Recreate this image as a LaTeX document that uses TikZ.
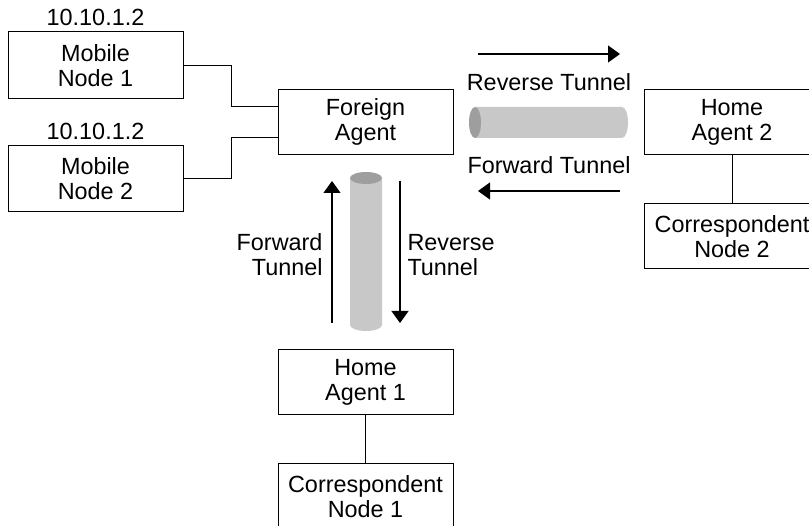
\documentclass[tikz,border=0pt]{standalone}
\usepackage{fontspec}
\setmainfont{Liberation Sans}
\usepackage{tikz}
\usetikzlibrary{arrows.meta,positioning}

\definecolor{tubebody}{HTML}{C8C8C8}
\definecolor{tubeend}{HTML}{9E9E9E}

\begin{document}
\begin{tikzpicture}[x=1pt,y=1pt,>={Triangle[length=12pt,width=17pt]},line width=1pt]
\tikzstyle{box}=[draw, rectangle, align=center, minimum height=65pt, minimum width=175pt, inner sep=0pt]
\tikzstyle{lbl}=[inner sep=0pt]
\tikzstyle{tunnel}=[line width=1.2pt]
\fontsize{23.4}{25}\selectfont
\useasboundingbox (0,0) rectangle (809,-526);

% boxes
\node[box] (fa) at (365.5,-122) {Foreign\\Agent};
\node[box, minimum height=67pt] (mn1) at (95.5,-65.5) {Mobile\\Node 1};
\node[box, minimum height=66pt] (mn2) at (95.5,-179) {Mobile\\Node 2};
\node[box] (ha2) at (732,-122.5) {Home\\Agent 2};
\node[box, below=48pt of ha2] (cn2) {Correspondent\\Node 2};
\node[box] (ha1) at (365.5,-382.5) {Home\\Agent 1};
\node[box, below=48pt of ha1] (cn1) {Correspondent\\Node 1};

\node[lbl, above=5pt of mn1] (ip1) {10.10.1.2};
\node[lbl, above=5pt of mn2] (ip2) {10.10.1.2};

% links
\draw (mn1.east) -- ++(48,0) |- (fa.170);
\draw (mn2.east) -- ++(48,0) |- (fa.190);
\draw (ha2) -- (cn2);
\draw (ha1) -- (cn1);

% tubes
\fill[tubebody] (475,-107) -- (622,-107) arc[start angle=90, end angle=-90, x radius=6, y radius=15.5] -- (475,-138) -- cycle;
\fill[tubeend] (475,-122.5) ellipse[x radius=6, y radius=15.5];
\fill[tubebody] (350,-178) -- (350,-325) arc[start angle=180, end angle=360, x radius=16, y radius=6] -- (382,-178) -- cycle;
\fill[tubeend] (366,-178) ellipse[x radius=16, y radius=6];

% tunnel arrows
\coordinate (rt1) at (478,-54);
\coordinate (rt2) at (620,-54);
\coordinate (ft1) at (620,-191);
\coordinate (ft2) at (478,-191);
\coordinate (fv1) at (332,-323);
\coordinate (fv2) at (332,-181);
\coordinate (rv1) at (400,-181);
\coordinate (rv2) at (400,-323);
\draw[tunnel,->] (rt1) -- (rt2);
\draw[tunnel,->] (ft1) -- (ft2);
\draw[tunnel,->] (fv1) -- (fv2);
\draw[tunnel,->] (rv1) -- (rv2);

\node[lbl] (rtl) at (549,-82) {Reverse Tunnel};
\node[lbl] (ftl) at (549,-165) {Forward Tunnel};
\node[lbl, anchor=east, align=right] (fvl) at (323,-255) {Forward\\Tunnel};
\node[lbl, anchor=west, align=left] (rvl) at (407,-255) {Reverse\\Tunnel};
\end{tikzpicture}
\end{document}
